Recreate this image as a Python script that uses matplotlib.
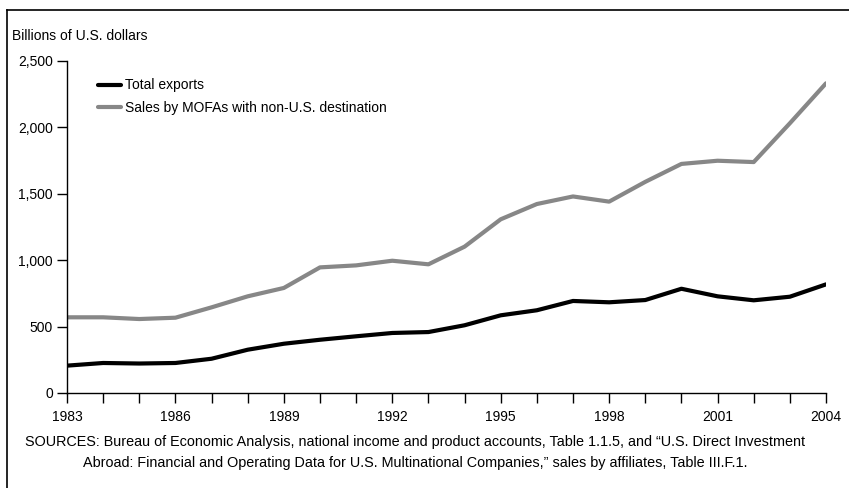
import matplotlib.pyplot as plt
from matplotlib.lines import Line2D

plt.rcParams['font.family'] = ['Liberation Sans Narrow', 'Liberation Sans', 'DejaVu Sans']

years = list(range(1983, 2005))
total_exports = [206, 226, 222, 226, 258, 326, 371, 401, 427, 452, 459, 510,
                 585, 623, 693, 683, 700, 785, 728, 698, 725, 818]
mofa_sales = [570, 570, 557, 567, 645, 728, 791, 946, 961, 996, 969, 1102,
              1308, 1423, 1480, 1441, 1590, 1725, 1749, 1739, 2031, 2332]
yticks = [0, 500, 1000, 1500, 2000, 2500]
xlabel_years = list(range(1983, 2005, 3))

fig = plt.figure(figsize=(8.49, 4.88), dpi=100)
ax = fig.add_axes([67/849, 1-393/488, (826-67)/849, (393-61)/488])

ax.plot(years, total_exports, color='black', lw=3, solid_capstyle='round',
        solid_joinstyle='round', label='Total exports')
ax.plot(years, mofa_sales, color='#878787', lw=3, solid_capstyle='round',
        solid_joinstyle='round', label='Sales by MOFAs with non-U.S. destination')

ax.set_xlim(1983, 2004)
ax.set_ylim(0, 2500)
ax.spines['right'].set_visible(False)
ax.spines['top'].set_visible(False)
ax.spines['left'].set_linewidth(1)
ax.spines['bottom'].set_linewidth(1)
ax.set_xticks(years)
ax.set_xticklabels([str(y) if y in xlabel_years else '' for y in years])
ax.set_yticks(yticks)
ax.set_yticklabels([f'{v:,}' for v in yticks])
ax.tick_params(axis='both', direction='out', length=7, width=1, labelsize=10, pad=3)
ax.tick_params(axis='x', pad=5)

ax.legend(loc='upper left', bbox_to_anchor=(0.025, 0.985), frameon=False,
          fontsize=10, handlelength=1.6, handletextpad=0.3, labelspacing=0.6)

fig.text(12/849, 1-36/488, 'Billions of U.S. dollars', fontsize=10, va='center', ha='left')
fig.text(415/849, 1-442/488,
         'SOURCES: Bureau of Economic Analysis, national income and product accounts, Table 1.1.5, and \u201cU.S. Direct Investment',
         fontsize=10.4, ha='center', va='center')
fig.text(415/849, 1-463/488,
         'Abroad: Financial and Operating Data for U.S. Multinational Companies,\u201d sales by affiliates, Table III.F.1.',
         fontsize=10.4, ha='center', va='center')

# frame on the left and top edge
fig.add_artist(Line2D([7/849, 7/849], [0, 1-10/488], color='black', lw=1.2,
                      transform=fig.transFigure))
fig.add_artist(Line2D([7/849, 1], [1-10/488, 1-10/488], color='black', lw=1.2,
                      transform=fig.transFigure))

fig.savefig('out.png', dpi=100)
